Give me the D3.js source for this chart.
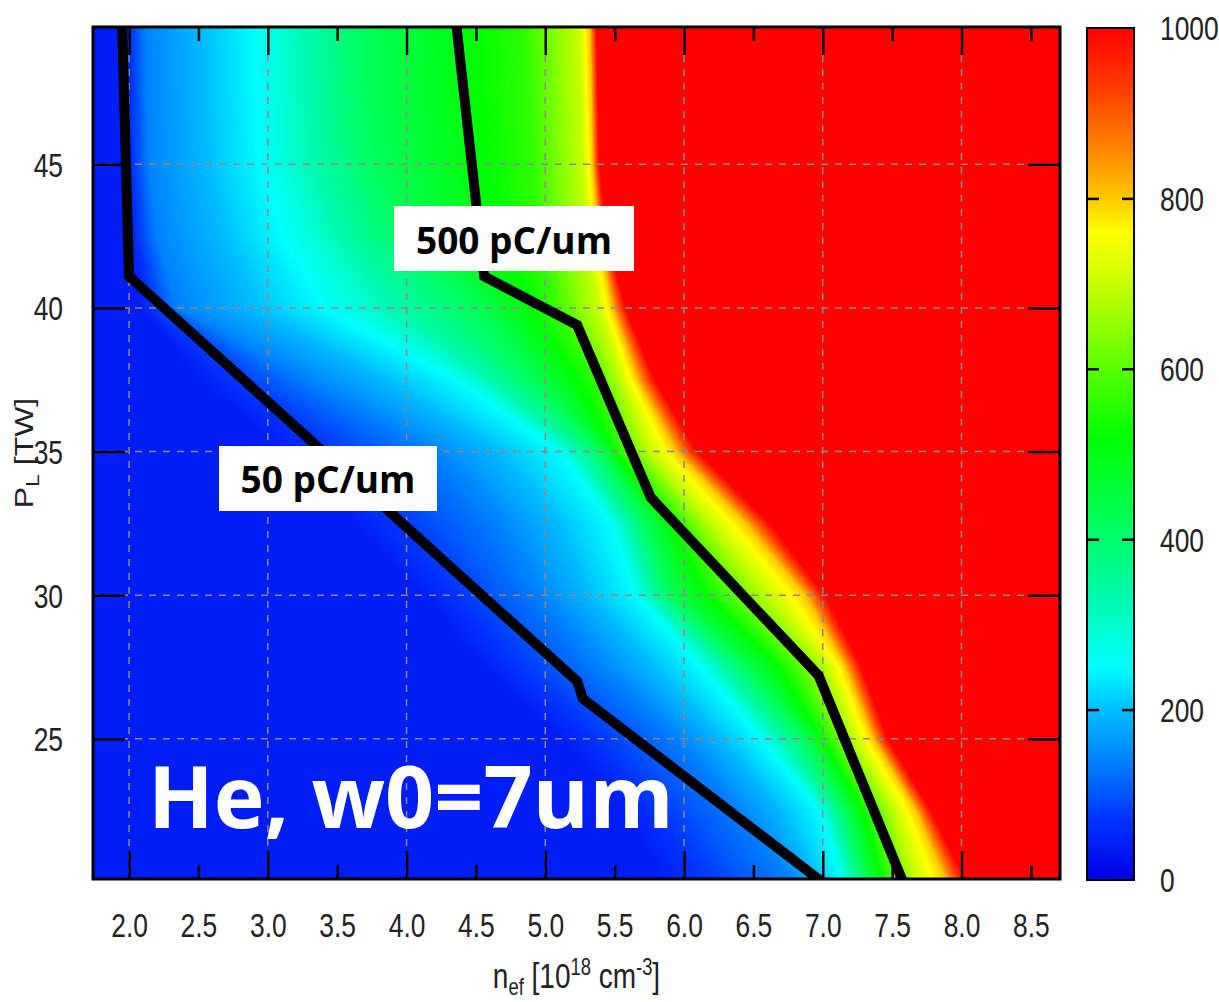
<!DOCTYPE html>
<html>
<head>
<meta charset="utf-8">
<script src="https://cdn.jsdelivr.net/npm/d3@7"></script>
<style>
  body { margin: 0; background: #fff; }
  svg { display: block; }
</style>
</head>
<body>
<svg id="chart" width="1219" height="1002"></svg>
<script>
// ---- axis ticks ----
const xMajorTicks = [2.0, 3.0, 4.0, 5.0, 6.0, 7.0, 8.0];
const xMinorTicks = [2.5, 3.5, 4.5, 5.5, 6.5, 7.5, 8.5];
const xLabelTicks = [2.0, 2.5, 3.0, 3.5, 4.0, 4.5, 5.0, 5.5, 6.0, 6.5, 7.0, 7.5, 8.0, 8.5];
const yTicks = [25, 30, 35, 40, 45];
const cbarTicks = [0, 200, 400, 600, 800, 1000];
const cbarInnerTicks = [200, 400, 600, 800];

// ---- charge map (pC/um) ----
// For each laser power row, the density n_ef at which the charge reaches each level.
const rowsPower = [20.1, 22.5, 25, 27.5, 30, 32.5, 35, 37.5, 40, 42.5, 45, 47.5, 49.8];
const chargeLevels = [40, 140, 250, 420, 560, 700, 800, 1000];
const nAt40   = [5.83, 5.54, 5.11, 4.53, 4.10, 3.59, 3.09, 2.50, 2.08, 2.00, 1.98, 1.97, 1.96];
const nAt140  = [6.77, 6.40, 5.97, 5.40, 4.96, 4.67, 4.20, 3.30, 2.35, 2.20, 2.14, 2.13, 2.12];
const nAt250  = [7.13, 6.98, 6.55, 6.12, 5.65, 5.47, 5.10, 4.35, 3.40, 3.10, 2.95, 2.92, 2.91];
const nAt420  = [7.31, 7.16, 6.87, 6.44, 5.90, 5.72, 5.40, 4.90, 4.50, 4.00, 3.78, 3.72, 3.70];
const nAt560  = [7.47, 7.34, 7.05, 6.77, 6.26, 5.97, 5.54, 5.36, 5.05, 4.95, 4.90, 4.87, 4.85];
const nAt700  = [7.67, 7.52, 7.23, 7.04, 6.62, 6.20, 5.76, 5.55, 5.38, 5.30, 5.27, 5.25, 5.24];
const nAt800  = [7.88, 7.67, 7.36, 7.16, 6.87, 6.44, 5.94, 5.66, 5.48, 5.38, 5.34, 5.33, 5.32];
const nAt1000 = [8.03, 7.78, 7.47, 7.28, 7.02, 6.62, 6.10, 5.79, 5.58, 5.44, 5.39, 5.38, 5.37];
const levelPositions = [nAt40, nAt140, nAt250, nAt420, nAt560, nAt700, nAt800, nAt1000];

// ---- iso-charge lines [n_ef, P_L] ----
const line50pC  = [[1.95, 49.8], [2.0, 41.1], [5.23, 27.0], [5.27, 26.4], [7.0, 20.0]];
const line500pC = [[4.36, 49.8], [4.56, 41.1], [5.23, 39.4], [5.76, 33.4], [6.97, 27.2], [7.58, 20.0]];

// ---- colour palette ----
const paletteStops  = [0, 70, 140, 200, 250, 330, 420, 520, 600, 700, 760, 800, 860, 930, 1000];
const paletteColors = ["#0000e6", "#0032ff", "#0082ff", "#00beff", "#00ffff", "#00faaf", "#00ff5a",
                       "#00ff00", "#5aff00", "#c8ff00", "#ffff00", "#ffc800", "#ff8200", "#ff3c00", "#ff0000"];

// ---- layout ----
const plot = { left: 93, top: 27, right: 1060, bottom: 879 };
const cbar = { left: 1087, right: 1134, top: 28, bottom: 880 };
const tickFont = "'Liberation Sans', Arial, sans-serif";
const squeeze = 0.8;

const svg = d3.select("#chart");

const x = d3.scaleLinear().domain([1.74, 8.71]).range([plot.left, plot.right]);
const y = d3.scaleLinear().domain([20.12, 49.78]).range([plot.bottom, plot.top]);
const color = d3.scaleLinear().domain(paletteStops).range(paletteColors).interpolate(d3.interpolateRgb).clamp(true);
const cb = d3.scaleLinear().domain([0, 1000]).range([cbar.bottom, cbar.top]);

// ---- heat map raster ----
const W = plot.right - plot.left, H = plot.bottom - plot.top;
const canvas = document.createElement("canvas");
canvas.width = W; canvas.height = H;
const ctx = canvas.getContext("2d");
const img = ctx.createImageData(W, H);
const lut = d3.range(0, 1001).map(v => d3.rgb(color(v)));
const posScales = levelPositions.map(arr => d3.scaleLinear().domain(rowsPower).range(arr).clamp(true));
for (let py = 0; py < H; py++) {
  const p = y.invert(plot.top + py + 0.5);
  const pos = posScales.map(s => s(p));
  const rowScale = d3.scaleLinear().domain(pos).range(chargeLevels).clamp(true);
  for (let px = 0; px < W; px++) {
    const n = x.invert(plot.left + px + 0.5);
    const c = lut[Math.round(rowScale(n))];
    const i = (py * W + px) * 4;
    img.data[i] = c.r; img.data[i + 1] = c.g; img.data[i + 2] = c.b; img.data[i + 3] = 255;
  }
}
ctx.putImageData(img, 0, 0);
svg.append("image")
  .attr("x", plot.left).attr("y", plot.top)
  .attr("width", W).attr("height", H)
  .attr("preserveAspectRatio", "none")
  .attr("href", canvas.toDataURL());

svg.append("clipPath").attr("id", "plotClip")
  .append("rect").attr("x", plot.left).attr("y", plot.top).attr("width", W).attr("height", H);

// ---- dashed grid ----
const grid = svg.append("g").attr("stroke", "#8a8a8a").attr("stroke-width", 1.5).attr("stroke-dasharray", "7,7");
grid.selectAll("line.gx").data(xMajorTicks).join("line")
  .attr("x1", d => x(d)).attr("x2", d => x(d)).attr("y1", plot.top).attr("y2", plot.bottom);
grid.selectAll("line.gy").data(yTicks).join("line")
  .attr("y1", d => y(d)).attr("y2", d => y(d)).attr("x1", plot.left).attr("x2", plot.right);

// ---- iso-charge lines ----
const lineGen = d3.line().x(d => x(d[0])).y(d => y(d[1]));
const lines = svg.append("g").attr("clip-path", "url(#plotClip)");
[line50pC, line500pC].forEach(pts => {
  lines.append("path").attr("d", lineGen(pts))
    .attr("fill", "none").attr("stroke", "#000").attr("stroke-width", 10)
    .attr("stroke-linejoin", "miter").attr("stroke-linecap", "butt");
});

// ---- ticks ----
function styleTicks(g) {
  g.select(".domain").remove();
  g.selectAll(".tick line").attr("stroke", "#000").attr("stroke-width", 2.5);
}
svg.append("g").attr("transform", `translate(0,${plot.bottom})`)
  .call(d3.axisBottom(x).tickValues(xMajorTicks).tickSize(-28).tickFormat("")).call(styleTicks);
svg.append("g").attr("transform", `translate(0,${plot.bottom})`)
  .call(d3.axisBottom(x).tickValues(xMinorTicks).tickSize(-14).tickFormat("")).call(styleTicks);
svg.append("g").attr("transform", `translate(0,${plot.top})`)
  .call(d3.axisTop(x).tickValues(xMajorTicks).tickSize(-28).tickFormat("")).call(styleTicks);
svg.append("g").attr("transform", `translate(0,${plot.top})`)
  .call(d3.axisTop(x).tickValues(xMinorTicks).tickSize(-14).tickFormat("")).call(styleTicks);
svg.append("g").attr("transform", `translate(${plot.right},0)`)
  .call(d3.axisRight(y).tickValues(yTicks).tickSize(-32).tickFormat("")).call(styleTicks);

// left axis with labels
const yAxisG = svg.append("g").attr("transform", `translate(${plot.left},0)`)
  .call(d3.axisLeft(y).tickValues(yTicks).tickSize(-32).tickFormat(d3.format("d"))).call(styleTicks);
yAxisG.selectAll("text")
  .attr("x", -30 / squeeze).attr("dy", "0.36em")
  .attr("transform", `scale(${squeeze},1)`)
  .attr("fill", "#222").style("font-family", tickFont).style("font-size", "33px");

// bottom labels
const xAxisG = svg.append("g").attr("transform", `translate(0,${plot.bottom})`)
  .call(d3.axisBottom(x).tickValues(xLabelTicks).tickSize(0).tickFormat(d3.format(".1f")));
xAxisG.select(".domain").remove();
xAxisG.selectAll("text")
  .attr("y", 58).attr("dy", 0)
  .attr("transform", `scale(${squeeze},1)`)
  .attr("fill", "#222").style("font-family", tickFont).style("font-size", "33px");

// plot frame
svg.append("rect").attr("x", plot.left).attr("y", plot.top).attr("width", W).attr("height", H)
  .attr("fill", "none").attr("stroke", "#000").attr("stroke-width", 3);

// ---- axis titles ----
const xt = svg.append("g").attr("transform", `translate(${(plot.left + plot.right) / 2},988) scale(${squeeze},1)`)
  .append("text").attr("text-anchor", "middle").attr("fill", "#222")
  .style("font-family", tickFont).style("font-size", "35px");
xt.append("tspan").text("n");
xt.append("tspan").attr("dy", 7).style("font-size", "23px").text("ef");
xt.append("tspan").attr("dy", -7).text(" [10");
xt.append("tspan").attr("dy", -13).style("font-size", "23px").text("18");
xt.append("tspan").attr("dy", 13).text(" cm");
xt.append("tspan").attr("dy", -13).style("font-size", "23px").text("-3");
xt.append("tspan").attr("dy", 13).text("]");

const yt = svg.append("g").attr("transform", `translate(33,${(plot.top + plot.bottom) / 2}) scale(${squeeze},1) rotate(-90)`)
  .append("text").attr("text-anchor", "middle").attr("fill", "#222")
  .style("font-family", tickFont).style("font-size", "32px");
yt.append("tspan").text("P");
yt.append("tspan").attr("dy", 8).style("font-size", "23px").text("L");
yt.append("tspan").attr("dy", -8).text(" [TW]");

// ---- colour bar ----
const grad = svg.append("defs").append("linearGradient").attr("id", "cbarGrad")
  .attr("x1", 0).attr("y1", 1).attr("x2", 0).attr("y2", 0);
grad.selectAll("stop").data(paletteStops).join("stop")
  .attr("offset", d => d / 1000).attr("stop-color", d => color(d));
svg.append("rect").attr("x", cbar.left).attr("y", cbar.top)
  .attr("width", cbar.right - cbar.left).attr("height", cbar.bottom - cbar.top)
  .attr("fill", "url(#cbarGrad)").attr("stroke", "#000").attr("stroke-width", 2);
svg.append("g").attr("transform", `translate(${cbar.left},0)`)
  .call(d3.axisLeft(cb).tickValues(cbarInnerTicks).tickSize(-12).tickFormat("")).call(styleTicks);
svg.append("g").attr("transform", `translate(${cbar.right},0)`)
  .call(d3.axisRight(cb).tickValues(cbarInnerTicks).tickSize(-12).tickFormat("")).call(styleTicks);
const cbLabels = svg.append("g").attr("transform", `translate(${cbar.right},0)`)
  .call(d3.axisRight(cb).tickValues(cbarTicks).tickSize(0).tickFormat(d3.format("d")));
cbLabels.select(".domain").remove();
cbLabels.selectAll("text")
  .attr("x", 26 / squeeze).attr("dy", "0.36em")
  .attr("transform", `scale(${squeeze},1)`)
  .attr("fill", "#222").style("font-family", tickFont).style("font-size", "33px");

// ---- annotations ----
const boldFont = "'Open Sans', 'Noto Sans', sans-serif";
function labelBox(bx, by, bw, bh, text, baseline) {
  svg.append("rect").attr("x", bx).attr("y", by).attr("width", bw).attr("height", bh).attr("fill", "#fff");
  svg.append("text").attr("x", bx + bw / 2).attr("y", baseline).attr("text-anchor", "middle")
    .attr("fill", "#000").style("font-family", boldFont).style("font-weight", 700).style("font-size", "37px")
    .text(text);
}
labelBox(394, 206, 240, 65, "500 pC/um", 254);
labelBox(219, 446, 218, 65, "50 pC/um", 493);

svg.append("text").attr("x", 148).attr("y", 828)
  .attr("fill", "#fff").style("font-family", boldFont).style("font-weight", 700).style("font-size", "86px")
  .text("He, w0=7um");
</script>
</body>
</html>
